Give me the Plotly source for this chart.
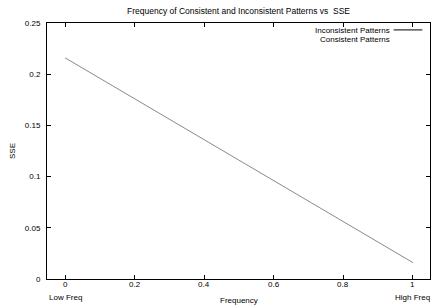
import plotly.graph_objects as go

frequency = [0, 1]
inconsistent_sse = [0.216, 0.016]
consistent_freq = []
consistent_sse = []
x_tickvals = [0, 0.2, 0.4, 0.6, 0.8, 1]
x_ticktext = ["0", "0.2", "0.4", "0.6", "0.8", "1"]
y_tickvals = [0, 0.05, 0.1, 0.15, 0.2, 0.25]
y_ticktext = ["0", "0.05", "0.1", "0.15", "0.2", "0.25"]

FONT = "Liberation Sans, Arial, sans-serif"

fig = go.Figure()
fig.add_trace(go.Scatter(x=frequency, y=inconsistent_sse, mode="lines",
                         line=dict(color="#8a8a8a", width=1), showlegend=False))
fig.add_trace(go.Scatter(x=consistent_freq, y=consistent_sse, mode="lines",
                         line=dict(color="#8a8a8a", width=1), showlegend=False))

fig.update_layout(
    width=432, height=308,
    margin=dict(l=47, r=2, t=23, b=29, autoexpand=False),
    paper_bgcolor="white", plot_bgcolor="white",
    font=dict(family=FONT, size=8, color="black"),
    title=dict(text="Frequency of Consistent and Inconsistent Patterns vs  SSE",
               x=0.5, xref="paper", y=0.975, yref="container", xanchor="center",
               font=dict(family=FONT, size=8.5, color="black")),
    xaxis=dict(range=[-0.052, 1.049], tickvals=x_tickvals, ticktext=x_ticktext,
               showticklabels=False,
               showgrid=False, zeroline=False, showline=True, linecolor="black",
               linewidth=1, mirror="ticks", ticks="inside", ticklen=4,
               tickcolor="black", automargin=False),
    yaxis=dict(range=[0, 0.25], tickvals=y_tickvals, ticktext=y_ticktext,
               showgrid=False, zeroline=False, showline=True, linecolor="black",
               linewidth=1, mirror="ticks", ticks="inside", ticklen=4,
               tickcolor="black", tickfont=dict(size=8, color="black"),
               ticklabelstandoff=4, automargin=False),
    showlegend=False,
)

annotations = [
    dict(text=t, x=v, y=0, xref="x", yref="paper", yshift=-5,
         xanchor="center", yanchor="middle", showarrow=False)
    for v, t in zip(x_tickvals, x_ticktext)
]
annotations += [
    dict(text="Low Freq", x=0, y=0, xref="x", yref="paper", yshift=-18,
         xanchor="center", yanchor="middle", showarrow=False),
    dict(text="High Freq", x=1, y=0, xref="x", yref="paper", yshift=-18,
         xanchor="center", yanchor="middle", showarrow=False),
    dict(text="Frequency", x=0.5, y=0, xref="x", yref="paper", yshift=-21,
         xanchor="center", yanchor="middle", showarrow=False),
    dict(text="SSE", x=0, y=0.5, xref="paper", yref="paper", xshift=-35,
         textangle=-90, xanchor="center", yanchor="middle", showarrow=False,
         font=dict(color="black")),
    dict(text="Inconsistent Patterns", x=1, y=1, xref="paper", yref="paper",
         xshift=-38, yshift=-7, xanchor="right", yanchor="middle", showarrow=False),
    dict(text="Consistent Patterns", x=1, y=1, xref="paper", yref="paper",
         xshift=-38, yshift=-16, xanchor="right", yanchor="middle", showarrow=False),
]
fig.update_layout(annotations=annotations)
fig.add_shape(type="line", xref="paper", yref="paper", x0=0.905, x1=0.98,
              y0=0.973, y1=0.973, line=dict(color="black", width=1))

fig.write_html("out.html", config={"displayModeBar": False},
               post_script="document.body.style.margin='0';")
